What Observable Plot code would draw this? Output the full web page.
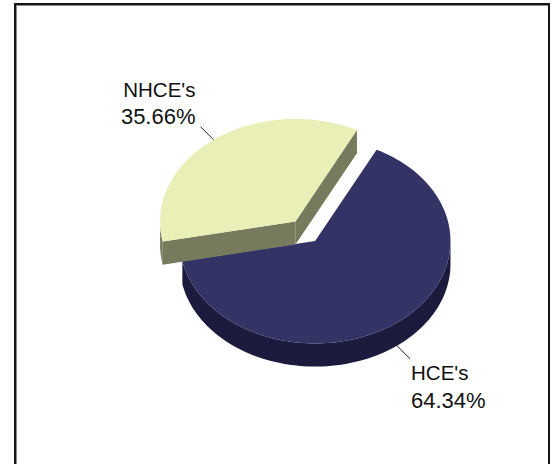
<!DOCTYPE html>
<html>
<head>
<meta charset="utf-8">
<script src="https://cdn.jsdelivr.net/npm/d3@7"></script>
<script src="https://cdn.jsdelivr.net/npm/@observablehq/plot@0.6"></script>
<style>
  html, body { margin: 0; padding: 0; background: #fff; overflow: hidden; height: 464px; }
  #panel { position: absolute; left: 14px; top: 3px; width: 532px; height: 480px; border: 2px solid #151515; box-shadow: inset 1px 1px 0 #8a8a8a; }
  #chart { position: absolute; left: 0; top: 0; }
  #chart svg { background: transparent !important; display: block; }
</style>
</head>
<body>
<div id="panel"></div>
<div id="chart"></div>
<script>
// Participant groups and their share of the plan, in percent
const categories = ["HCE's", "NHCE's"];
const shares = [64.34, 35.66];
const topColors = ["#333366", "#e9efb7"];
const sideColors = ["#1b1b3e", "#777b5d"];
const pulledOut = [0, 0.24];

// Pie geometry in unit-circle coordinates
const startAngle = 27;      // degrees clockwise from twelve o'clock
const depth = 0.225;
const leaderLength = 1.16;
const arcStep = 2;

const rad = d => d * Math.PI / 180;
const rim = (c, a, r = 1) => [c[0] + r * Math.sin(rad(a)), c[1] - r * Math.cos(rad(a))];

const faces = [];
const leaders = [];
const names = [];
const percents = [];
let from = startAngle;

categories.forEach((name, i) => {
  const sweep = shares[i] * 3.6;
  const to = from + sweep;
  const mid = from + sweep / 2;
  const c = [pulledOut[i] * Math.sin(rad(mid)), -pulledOut[i] * Math.cos(rad(mid))];

  const angles = d3.range(from, to, arcStep).concat(to);
  const arc = angles.map(a => rim(c, a));
  // Only the part of the rim on the near side of the disc shows its wall
  const nearArc = angles.filter(a => Math.cos(rad(a)) < 0).map(a => rim(c, a));
  const sunk = p => [p[0], p[1] + depth];

  const poly = (id, pts, fill) => pts.forEach(p => faces.push({id, x: p[0], y: p[1], fill}));
  poly(`${name} rim`, [...nearArc, ...nearArc.map(sunk).reverse()], sideColors[i]);
  // Cut walls only show on a slice pulled away from the pie
  if (pulledOut[i] > 0) {
    poly(`${name} cut a`, [c, arc[0], sunk(arc[0]), sunk(c)], sideColors[i]);
    poly(`${name} cut b`, [c, arc[arc.length - 1], sunk(arc[arc.length - 1]), sunk(c)], sideColors[i]);
  }
  poly(`${name} top`, [c, ...arc], topColors[i]);

  // Leader starts on the visible rim at the slice's middle angle
  const front = Math.cos(rad(mid)) < 0;
  const inner = rim(c, mid);
  const outer = rim(c, mid, leaderLength);
  const lift = front ? depth : 0;
  leaders.push({x1: inner[0], y1: inner[1] + lift, x2: outer[0], y2: outer[1] + lift});
  const right = Math.sin(rad(mid)) > 0;
  const at = {x: outer[0], y: outer[1] + lift, right};
  names.push({...at, text: name});
  percents.push({...at, text: `${d3.format(".2f")(shares[i])}%`});
  from = to;
});

// The name sits above the percentage in each two-line label
const label = (rows, right, fontSize, dy) => Plot.text(rows.filter(d => d.right === right), {
  x: "x", y: "y", text: "text",
  fontFamily: "Liberation Sans, Arial, sans-serif",
  fontSize, fill: "#111",
  textAnchor: right ? "start" : "end",
  lineAnchor: "bottom",
  dx: right ? 1 : -5,
  dy
});

const chart = Plot.plot({
  width: 555,
  height: 464,
  margin: 0,
  style: {background: "transparent"},
  x: {domain: [-1, 1], range: [179.2, 450], axis: null},
  y: {domain: [-1, 1], range: [138, 343], axis: null},
  marks: [
    Plot.line(faces, {x: "x", y: "y", z: "id", fill: d => d.fill, stroke: "none"}),
    Plot.link(leaders, {x1: "x1", y1: "y1", x2: "x2", y2: "y2", stroke: "#222", strokeWidth: 1}),
    label(names, true, 20.5, 21),
    label(percents, true, 22, 49),
    label(names, false, 20.5, -30),
    label(percents, false, 22, -3)
  ]
});
document.getElementById("chart").append(chart);
</script>
</body>
</html>
